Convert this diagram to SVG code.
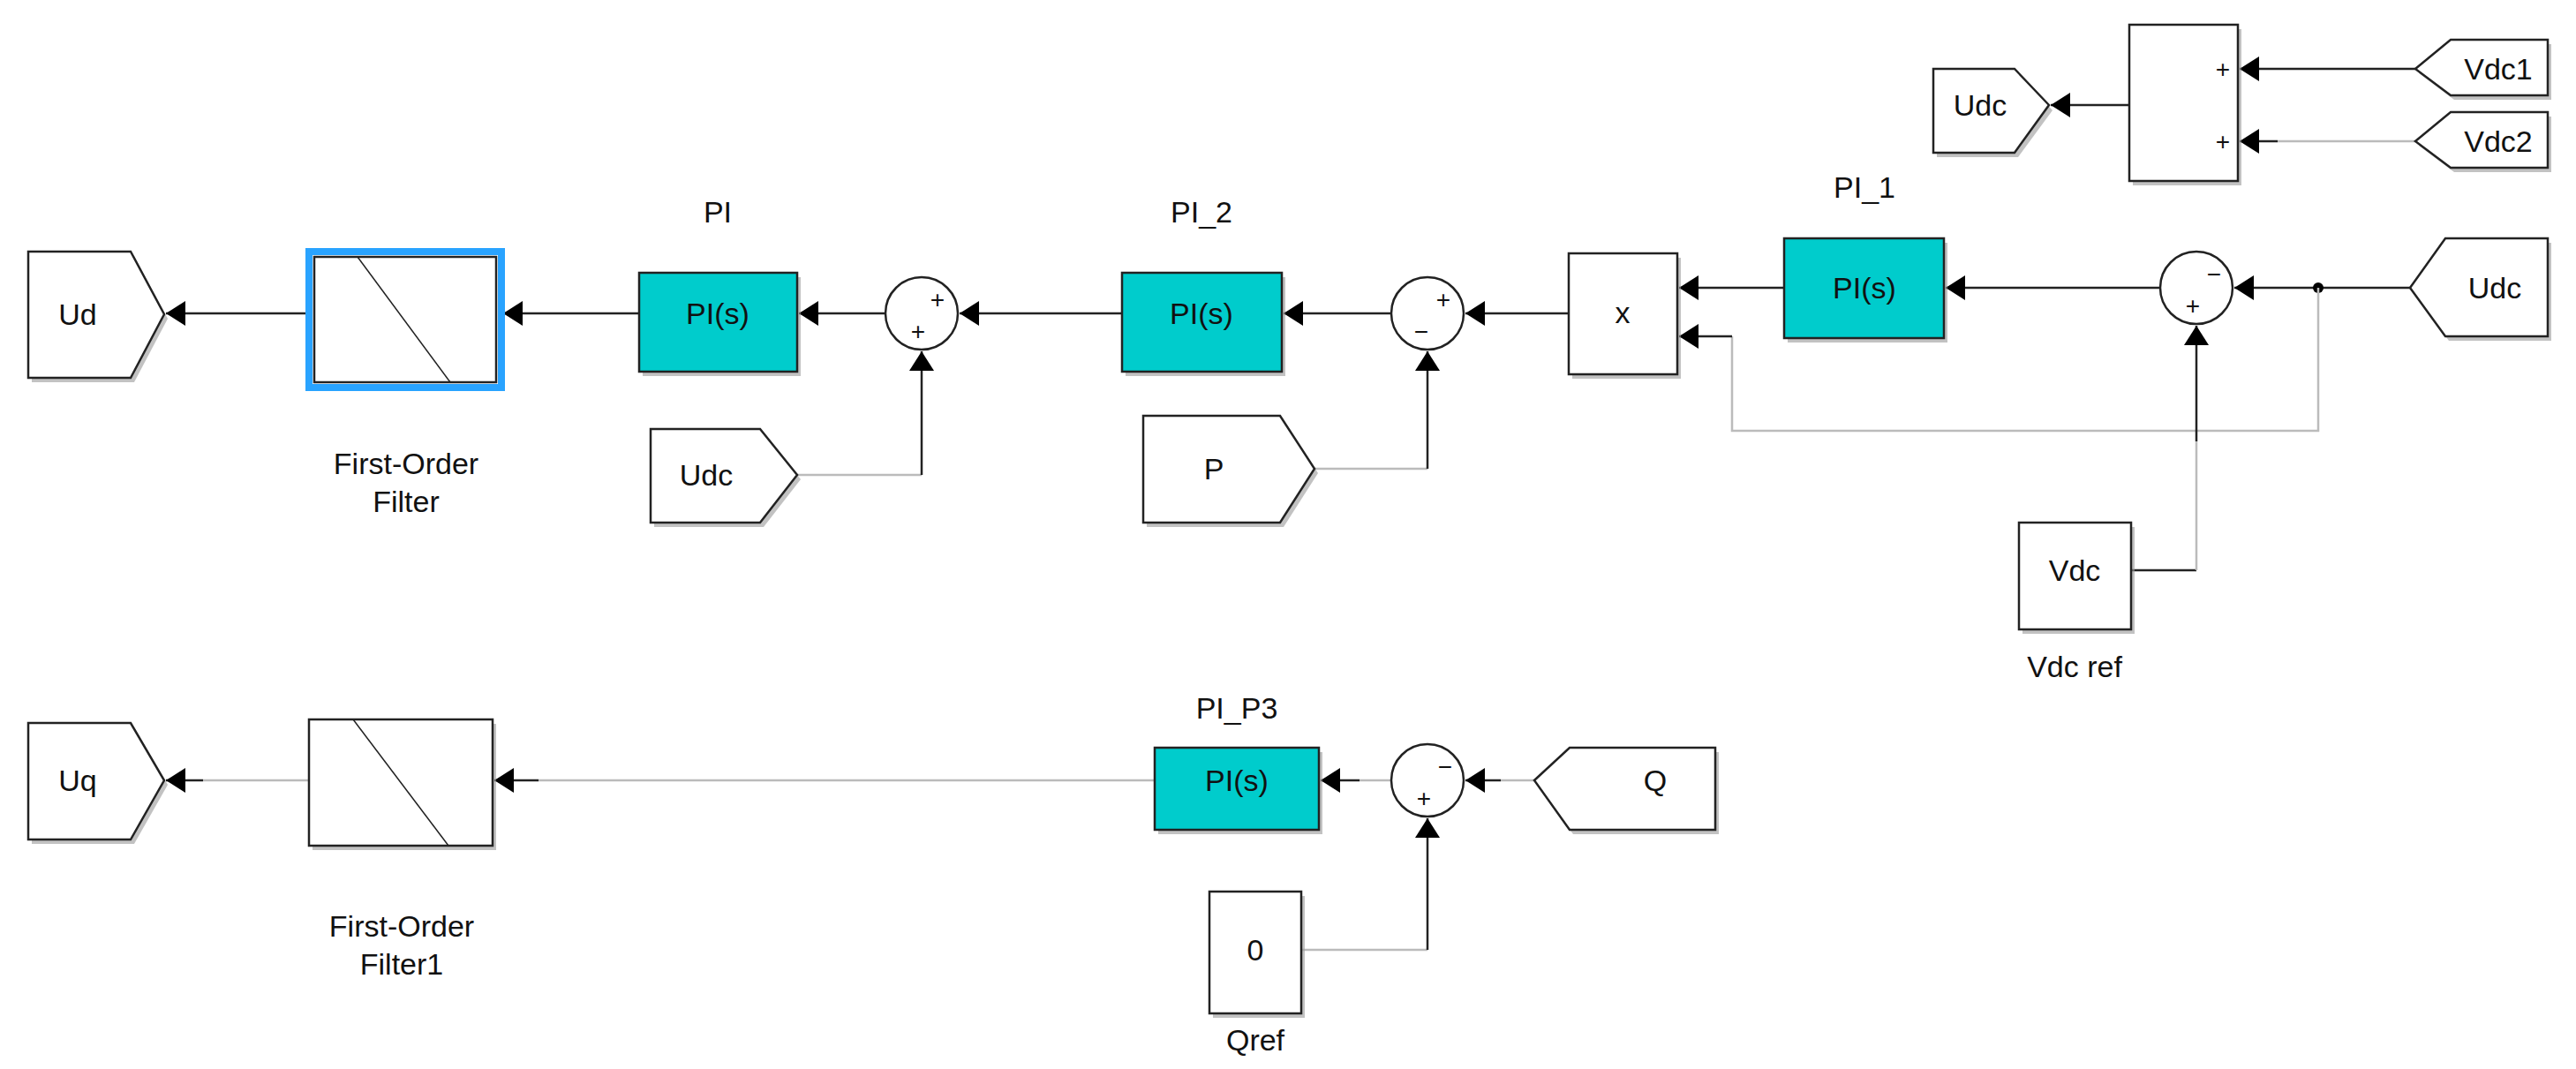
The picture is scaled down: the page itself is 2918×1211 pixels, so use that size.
<svg xmlns="http://www.w3.org/2000/svg" width="2918" height="1211" viewBox="0 0 2918 1211">
<style>
.b{fill:#fff;stroke:#222;stroke-width:2.5}
.pi{fill:#00cccc;stroke:#222;stroke-width:2.5}
.sh{fill:#999;opacity:.6}
.t{font-family:"Liberation Sans",Arial,sans-serif;font-size:34px;fill:#111;text-anchor:middle}
.s{font-family:"Liberation Sans",Arial,sans-serif;font-size:28px;fill:#111;text-anchor:middle}
.w{fill:none;stroke:#222;stroke-width:2.5}
.g{fill:none;stroke:#bbb;stroke-width:2.5}
</style>
<defs>
<marker id="a" markerUnits="userSpaceOnUse" markerWidth="24" markerHeight="28" refX="22" refY="14" orient="auto"><path d="M0,0 L22,14 L0,28 Z" fill="#000"/></marker>
</defs>
<rect width="2918" height="1211" fill="#fff"/>
<g id="connectors">
<path class="w" d="M350,355 H188" marker-end="url(#a)"/>
<path class="w" d="M724,355 H570" marker-end="url(#a)"/>
<path class="w" d="M1003,355 H905" marker-end="url(#a)"/>
<path class="w" d="M1271,355 H1087" marker-end="url(#a)"/>
<path class="w" d="M1576,355 H1454" marker-end="url(#a)"/>
<path class="w" d="M1777,355 H1660" marker-end="url(#a)"/>
<path class="g" d="M903,538 H1044"/><path class="w" d="M1044,538 V398" marker-end="url(#a)"/>
<path class="g" d="M1489,531 H1617"/><path class="w" d="M1617,531 V398" marker-end="url(#a)"/>
<path class="w" d="M2021,326 H1902" marker-end="url(#a)"/>
<path class="w" d="M2447,326 H2204" marker-end="url(#a)"/>
<path class="w" d="M2730,326 H2531" marker-end="url(#a)"/>
<circle cx="2626" cy="326" r="6" fill="#000"/>
<path class="g" d="M2626,326 V488 H1962 V381"/><path class="w" d="M1962,381 H1902" marker-end="url(#a)"/>
<path class="w" d="M2414,646 H2488"/><path class="g" d="M2488,646 V500"/><path class="w" d="M2488,500 V369" marker-end="url(#a)"/>
<path class="w" d="M2736,78 H2537" marker-end="url(#a)"/>
<path class="g" d="M2736,160 H2580"/><path class="w" d="M2580,160 H2537" marker-end="url(#a)"/>
<path class="w" d="M2412,119 H2323" marker-end="url(#a)"/>
<path class="g" d="M350,884 H230"/><path class="w" d="M230,884 H188" marker-end="url(#a)"/>
<path class="g" d="M1308,884 H610"/><path class="w" d="M610,884 H560" marker-end="url(#a)"/>
<path class="g" d="M1576,884 H1540"/><path class="w" d="M1540,884 H1496" marker-end="url(#a)"/>
<path class="g" d="M1738,884 H1700"/><path class="w" d="M1700,884 H1660" marker-end="url(#a)"/>
<path class="g" d="M1474,1076 H1617"/><path class="w" d="M1617,1076 V927" marker-end="url(#a)"/>
</g>
<g id="Ud"><polygon class="sh" points="36,290 152,290 190,361 152,433 36,433"/><polygon class="b" points="32,285 148,285 186,356 148,428 32,428"/><text class="t" x="88" y="368">Ud</text></g>
<g id="Filter"><rect x="350" y="285" width="218" height="154" fill="none" stroke="#29a3ff" stroke-width="8"/><rect class="b" x="356" y="291" width="206" height="142"/><path d="M405,291 L510,433" stroke="#222" stroke-width="1.5"/><text class="t" x="460" y="537">First-Order</text><text class="t" x="460" y="580">Filter</text></g>
<g id="PI"><rect class="sh" x="728" y="314" width="179" height="112"/><rect class="pi" x="724" y="309" width="179" height="112"/><text class="t" x="813" y="367">PI(s)</text><text class="t" x="813" y="252">PI</text></g>
<g id="Sum1"><circle class="b" cx="1044" cy="355" r="41"/><text class="s" x="1062" y="349">+</text><text class="s" x="1040" y="385">+</text></g>
<g id="PI_2"><rect class="sh" x="1275" y="314" width="181" height="112"/><rect class="pi" x="1271" y="309" width="181" height="112"/><text class="t" x="1361" y="367">PI(s)</text><text class="t" x="1361" y="252">PI_2</text></g>
<g id="UdcTag1"><polygon class="sh" points="741,491 865,491 907,543 865,597 741,597"/><polygon class="b" points="737,486 861,486 903,538 861,592 737,592"/><text class="t" x="800" y="550">Udc</text></g>
<g id="P"><polygon class="sh" points="1299,476 1454,476 1493,536 1454,597 1299,597"/><polygon class="b" points="1295,471 1450,471 1489,531 1450,592 1295,592"/><text class="t" x="1375" y="543">P</text></g>
<g id="Sum2"><circle class="b" cx="1617" cy="355" r="41"/><text class="s" x="1635" y="349">+</text><text class="s" x="1610" y="385">−</text></g>
<g id="Product"><rect class="sh" x="1781" y="292" width="123" height="137"/><rect class="b" x="1777" y="287" width="123" height="137"/><text class="t" x="1838" y="366">x</text></g>
<g id="PI_1"><rect class="sh" x="2025" y="275" width="181" height="113"/><rect class="pi" x="2021" y="270" width="181" height="113"/><text class="t" x="2112" y="338">PI(s)</text><text class="t" x="2112" y="224">PI_1</text></g>
<g id="Sum3"><circle class="b" cx="2488" cy="326" r="41"/><text class="s" x="2508" y="320">−</text><text class="s" x="2484" y="356">+</text></g>
<g id="UdcTag2"><polygon class="sh" points="2774,275 2890,275 2890,386 2774,386 2734,331"/><polygon class="b" points="2770,270 2886,270 2886,381 2770,381 2730,326"/><text class="t" x="2826" y="338">Udc</text></g>
<g id="VdcRef"><rect class="sh" x="2291" y="597" width="127" height="121"/><rect class="b" x="2287" y="592" width="127" height="121"/><text class="t" x="2350" y="658">Vdc</text><text class="t" x="2350" y="767">Vdc ref</text></g>
<g id="SumTop"><rect class="sh" x="2416" y="33" width="123" height="177"/><rect class="b" x="2412" y="28" width="123" height="177"/><text class="s" x="2518" y="88">+</text><text class="s" x="2518" y="170">+</text></g>
<g id="UdcTag3"><polygon class="sh" points="2194,83 2286,83 2325,125 2286,178 2194,178"/><polygon class="b" points="2190,78 2282,78 2321,119 2282,173 2190,173"/><text class="t" x="2243" y="131">Udc</text></g>
<g id="Vdc1"><polygon class="sh" points="2780,50 2890,50 2890,113 2780,113 2740,83"/><polygon class="b" points="2776,45 2886,45 2886,108 2776,108 2736,78"/><text class="t" x="2830" y="90">Vdc1</text></g>
<g id="Vdc2"><polygon class="sh" points="2780,132 2890,132 2890,195 2780,195 2740,165"/><polygon class="b" points="2776,127 2886,127 2886,190 2776,190 2736,160"/><text class="t" x="2830" y="172">Vdc2</text></g>
<g id="Uq"><polygon class="sh" points="36,824 152,824 190,889 152,956 36,956"/><polygon class="b" points="32,819 148,819 186,884 148,951 32,951"/><text class="t" x="88" y="896">Uq</text></g>
<g id="Filter1"><rect class="sh" x="354" y="820" width="208" height="143"/><rect class="b" x="350" y="815" width="208" height="143"/><path d="M400,815 L508,958" stroke="#222" stroke-width="1.5"/><text class="t" x="455" y="1061">First-Order</text><text class="t" x="455" y="1104">Filter1</text></g>
<g id="PI_P3"><rect class="sh" x="1312" y="852" width="186" height="93"/><rect class="pi" x="1308" y="847" width="186" height="93"/><text class="t" x="1401" y="896">PI(s)</text><text class="t" x="1401" y="814">PI_P3</text></g>
<g id="Sum4"><circle class="b" cx="1617" cy="884" r="41"/><text class="s" x="1637" y="878">−</text><text class="s" x="1613" y="914">+</text></g>
<g id="Q"><polygon class="sh" points="1782,852 1947,852 1947,945 1782,945 1742,889"/><polygon class="b" points="1778,847 1943,847 1943,940 1778,940 1738,884"/><text class="t" x="1875" y="896">Q</text></g>
<g id="Qref"><rect class="sh" x="1374" y="1015" width="104" height="138"/><rect class="b" x="1370" y="1010" width="104" height="138"/><text class="t" x="1422" y="1088">0</text><text class="t" x="1422" y="1190">Qref</text></g>
</svg>
